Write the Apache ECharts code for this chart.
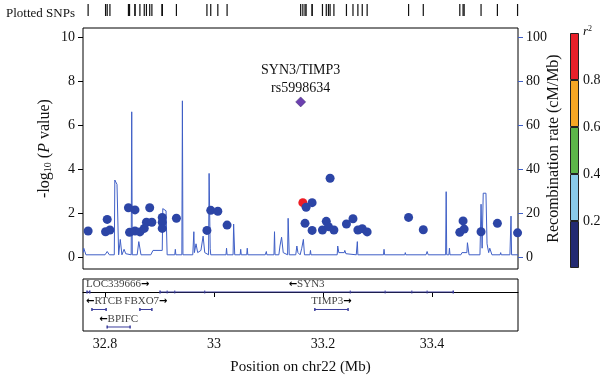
<!DOCTYPE html>
<html>
<head>
<meta charset="utf-8">
<script src="https://cdn.jsdelivr.net/npm/echarts@6/dist/echarts.min.js"></script>
<style>
html, body { margin: 0; padding: 0; background: #fff; }
#main { width: 600px; height: 376px; }
</style>
</head>
<body>
<div id="main"></div>
<script>
// SNPs (position in Mb, -log10 p, r2 with lead snp)
var snpPos = [32.769, 32.801, 32.804, 32.809, 32.843, 32.845, 32.855, 32.855, 32.864, 32.872,
  32.876, 32.882, 32.886, 32.905, 32.905, 32.905, 32.931, 32.987, 32.994, 33.007,
  33.024, 33.163, 33.169, 33.180, 33.213, 33.167, 33.180, 33.199, 33.206, 33.210,
  33.220, 33.243, 33.255, 33.264, 33.272, 33.281, 33.357, 33.384, 33.451, 33.457,
  33.459, 33.490, 33.520, 33.557];
var snpLogP = [1.18, 1.15, 1.71, 1.23, 2.24, 1.12, 2.14, 1.18, 1.14, 1.30,
  1.58, 2.24, 1.58, 1.80, 1.58, 1.30, 1.76, 1.21, 2.12, 2.08,
  1.45, 2.47, 2.26, 2.47, 3.58, 1.53, 1.21, 1.23, 1.62, 1.38,
  1.23, 1.50, 1.74, 1.23, 1.29, 1.14, 1.80, 1.24, 1.12, 1.64,
  1.27, 1.15, 1.53, 1.10];
var snpR2 = [0.1, 0.1, 0.1, 0.1, 0.1, 0.1, 0.1, 0.1, 0.1, 0.1,
  0.1, 0.1, 0.1, 0.1, 0.1, 0.1, 0.1, 0.1, 0.1, 0.1,
  0.1, 0.85, 0.1, 0.1, 0.1, 0.1, 0.1, 0.1, 0.1, 0.1,
  0.1, 0.1, 0.1, 0.1, 0.1, 0.1, 0.1, 0.1, 0.1, 0.1,
  0.1, 0.1, 0.1, 0.1];
var leadName = 'rs5998634';
var leadGene = 'SYN3/TIMP3';
var leadPos = 33.159;
var leadLogP = 7.05;

// recombination rate (cM/Mb)
var recombPos = [32.760, 32.761, 32.765, 32.800, 32.804, 32.808, 32.817, 32.818, 32.822, 32.825,
  32.828, 32.831, 32.835, 32.838, 32.848, 32.849, 32.850, 32.859, 32.862, 32.866,
  32.884, 32.888, 32.905, 32.906, 32.912, 32.914, 32.928, 32.929, 32.930, 32.941,
  32.942, 32.943, 32.961, 32.963, 32.964, 32.967, 32.970, 32.976, 32.980, 32.983,
  32.990, 32.991, 32.993, 32.994, 33.022, 33.023, 33.024, 33.035, 33.036, 33.038,
  33.048, 33.049, 33.050, 33.060, 33.061, 33.062, 33.094, 33.096, 33.097, 33.110,
  33.111, 33.112, 33.119, 33.121, 33.124, 33.127, 33.135, 33.136, 33.138, 33.150,
  33.152, 33.154, 33.158, 33.161, 33.164, 33.166, 33.176, 33.177, 33.178, 33.226,
  33.227, 33.229, 33.239, 33.240, 33.242, 33.261, 33.263, 33.264, 33.311, 33.312,
  33.313, 33.350, 33.351, 33.352, 33.389, 33.391, 33.393, 33.425, 33.426, 33.427,
  33.431, 33.432, 33.433, 33.453, 33.455, 33.464, 33.465, 33.468, 33.488, 33.490,
  33.492, 33.494, 33.499, 33.501, 33.504, 33.506, 33.510, 33.525, 33.526, 33.527,
  33.543, 33.545, 33.546, 33.558];
var recombRate = [2, 4, 1, 1, 2.5, 1, 1, 35, 33, 1,
  8, 1, 3.5, 1.5, 1, 66, 1, 1, 7, 1,
  1, 3, 3, 22, 21, 1, 1, 3.5, 1, 1,
  71, 1, 1, 11.5, 2, 6, 2, 3, 9.5, 2,
  1, 38, 4, 1, 1, 4, 1, 1, 15, 1,
  1, 3.5, 1, 1, 4, 1, 1, 2.5, 1, 1,
  11.5, 1, 1, 5, 9, 2, 1, 17.6, 1, 1,
  5, 2, 1, 4, 8, 1, 1, 3, 1, 1,
  5, 2, 2, 3, 1.5, 1, 7, 1, 1, 3.5,
  1, 1, 2, 1, 1, 2.5, 1, 1, 29.7, 1,
  1, 4, 1, 1, 2, 2, 6.5, 1, 1, 24,
  4, 29, 29, 6, 2, 4, 1, 1, 2, 1,
  1, 18.6, 1, 1];

// genes
var geneNames = ['LOC339666', 'SYN3', 'RTCB', 'FBXO7', 'TIMP3', 'BPIFC'];
var geneStart = [32.767, 32.901, 32.776, 32.864, 33.185, 32.804];
var geneEnd = [32.772, 33.439, 32.802, 32.886, 33.246, 32.846];
var geneRow = [0, 0, 1, 1, 1, 2];
var geneStrand = [1, -1, -1, 1, 1, -1];
var syn3Exons = [32.914, 32.928, 32.983, 33.250, 33.314, 33.363, 33.391];

var r2Bands = [0.2, 0.2, 0.2, 0.2, 0.2];
var r2Colors = ['#232a72', '#8acbea', '#5db54a', '#f6a724', '#e8202a'];
var dotColors = ['#2c45a6', '#8acbea', '#5db54a', '#f6a724', '#ee1d25'];
var r2Ticks = [0.2, 0.4, 0.6, 0.8];
var xTicks = [32.8, 33, 33.2, 33.4];
var pTicks = [0, 2, 4, 6, 8, 10];
var rateTicks = [0, 20, 40, 60, 80, 100];

var X_MIN = 32.7596, X_MAX = 33.5578;
var SERIF = '"Liberation Serif", "DejaVu Serif", serif';

var chart = echarts.init(document.getElementById('main'));

var snpData = snpPos.map(function (x, i) { return [x, snpLogP[i], snpR2[i]]; });
var tickData = snpPos.concat([leadPos]).map(function (x) { return [x, 0]; });
var recombData = recombPos.map(function (x, i) { return [x, recombRate[i]]; });
var geneData = geneNames.map(function (n, i) {
  return [geneStart[i], geneEnd[i], geneRow[i], geneStrand[i]];
});

function renderGene(params, api) {
  var i = params.dataIndex;
  var s = api.coord([api.value(0), api.value(2)]);
  var e = api.coord([api.value(1), api.value(2)]);
  var name = geneNames[i];
  var text = api.value(3) < 0 ? '{a|\u2190}' + name : name + '{a|\u2192}';
  var cx = (s[0] + e[0]) / 2;
  var w = name.length * 6.3 + 12;
  var left = params.coordSys.x;
  var align = 'center', tx = cx;
  if (cx - w / 2 < left + 2) { align = 'left'; tx = left + 3; }
  var color = '#3b3d9c';
  var children = [
    { type: 'line', shape: { x1: s[0], y1: s[1], x2: e[0], y2: e[1] }, style: { stroke: color, lineWidth: 1 } },
    { type: 'line', shape: { x1: s[0], y1: s[1] - 1.5, x2: s[0], y2: s[1] + 1.5 }, style: { stroke: color, lineWidth: 1.5 } },
    { type: 'line', shape: { x1: e[0], y1: e[1] - 1.5, x2: e[0], y2: e[1] + 1.5 }, style: { stroke: color, lineWidth: 1.5 } },
    {
      type: 'text', x: tx, y: s[1] - 8,
      style: {
        text: text, fill: '#444', fontFamily: SERIF, fontSize: 11,
        align: align, verticalAlign: 'middle',
        rich: { a: { fontFamily: 'DejaVu Sans', fontSize: 10, fontWeight: 'bold', fill: '#000' } }
      }
    }
  ];
  if (name === 'SYN3') {
    syn3Exons.forEach(function (x) {
      var p = api.coord([x, api.value(2)]);
      children.push({ type: 'line', shape: { x1: p[0], y1: p[1] - 1.5, x2: p[0], y2: p[1] + 1.5 }, style: { stroke: color, lineWidth: 1 } });
    });
  }
  return { type: 'group', children: children };
}

var barSeries = r2Bands.map(function (v, i) {
  return {
    type: 'bar', xAxisIndex: 3, yAxisIndex: 4, stack: 'r2', barWidth: 9,
    data: [v], silent: true,
    itemStyle: { color: r2Colors[i], borderColor: '#222', borderWidth: 1 }
  };
});

var option = {
  animation: false,
  title: {
    text: 'Plotted SNPs', left: 1, top: 2,
    textStyle: { fontFamily: SERIF, fontSize: 13, fontWeight: 'normal', color: '#111' }
  },
  visualMap: {
    show: false, seriesIndex: 1, dimension: 2,
    pieces: [
      { min: 0, max: 0.2, color: dotColors[0] },
      { min: 0.2, max: 0.4, color: dotColors[1] },
      { min: 0.4, max: 0.6, color: dotColors[2] },
      { min: 0.6, max: 0.8, color: dotColors[3] },
      { min: 0.8, max: 1, color: dotColors[4] }
    ]
  },
  grid: [
    { left: 83, right: 82, top: 4, height: 12, outerBoundsMode: 'none' },
    { left: 83, right: 82, top: 28, height: 241, show: true, borderColor: '#000', borderWidth: 1, outerBoundsMode: 'none' },
    { left: 83, right: 82, top: 279, height: 52, show: true, borderColor: '#000', borderWidth: 1, outerBoundsMode: 'none' },
    { left: 570, width: 9, top: 33, height: 235, outerBoundsMode: 'none' }
  ],
  xAxis: [
    { gridIndex: 0, type: 'value', min: X_MIN, max: X_MAX, show: false },
    { gridIndex: 1, type: 'value', min: X_MIN, max: X_MAX, axisLine: { show: false }, axisTick: { show: false }, axisLabel: { show: false }, splitLine: { show: false } },
    {
      gridIndex: 2, type: 'value', min: X_MIN, max: X_MAX,
      axisLine: { show: true, lineStyle: { color: '#000' } },
      axisTick: { show: true, customValues: xTicks, length: 5, lineStyle: { color: '#000' } },
      axisLabel: { customValues: xTicks, fontFamily: SERIF, fontSize: 14, color: '#111', margin: 6 },
      splitLine: { show: false },
      name: 'Position on chr22 (Mb)', nameLocation: 'middle', nameGap: 29, nameMoveOverlap: false,
      nameTextStyle: { fontFamily: SERIF, fontSize: 15, color: '#111' }
    },
    { gridIndex: 3, type: 'category', data: [''], show: false }
  ],
  yAxis: [
    { gridIndex: 0, type: 'value', min: -1, max: 1, show: false },
    {
      gridIndex: 1, type: 'value', min: -0.545, max: 10.41,
      axisLine: { show: false },
      axisTick: { show: true, customValues: pTicks, length: 5, lineStyle: { color: '#000' } },
      axisLabel: { customValues: pTicks, fontFamily: SERIF, fontSize: 14, color: '#111', margin: 8 },
      splitLine: { show: false },
      name: '-log{s|10} ({i|P} value)', nameLocation: 'middle', nameGap: 30, nameRotate: 90,
      nameMoveOverlap: false,
      nameTextStyle: {
        fontFamily: SERIF, fontSize: 16, color: '#111',
        rich: {
          s: { fontFamily: SERIF, fontSize: 10, color: '#111', verticalAlign: 'bottom', padding: [7, 0, 0, 0] },
          i: { fontFamily: SERIF, fontSize: 16, color: '#111', fontStyle: 'italic' }
        }
      }
    },
    {
      gridIndex: 1, type: 'value', position: 'right', min: -5.45, max: 104.1,
      axisLine: { show: false },
      axisTick: { show: true, customValues: rateTicks, length: 5, lineStyle: { color: '#3f5fc6' } },
      axisLabel: { customValues: rateTicks, fontFamily: SERIF, fontSize: 14, color: '#111', margin: 8 },
      splitLine: { show: false },
      name: 'Recombination rate (cM/Mb)', nameLocation: 'middle', nameGap: 28, nameRotate: 90,
      nameMoveOverlap: false,
      nameTextStyle: { fontFamily: SERIF, fontSize: 16, color: '#111' }
    },
    { gridIndex: 2, type: 'value', min: -0.743, max: 2.229, inverse: true, show: false },
    {
      gridIndex: 3, type: 'value', min: 0, max: 1, position: 'right',
      axisLine: { show: false }, axisTick: { show: false }, splitLine: { show: false },
      axisLabel: { customValues: r2Ticks, fontFamily: SERIF, fontSize: 14, color: '#111', margin: 4 },
      name: '{i|r}{s|2}', nameLocation: 'end', nameGap: -6, nameMoveOverlap: false,
      nameTextStyle: {
        align: 'left', padding: [0, 0, 0, 4],
        rich: {
          i: { fontFamily: SERIF, fontSize: 13, fontStyle: 'italic', color: '#111' },
          s: { fontFamily: SERIF, fontSize: 8, color: '#111', verticalAlign: 'top', padding: [0, 0, 6, 0] }
        }
      }
    }
  ],
  series: [
    {
      type: 'line', xAxisIndex: 1, yAxisIndex: 2, data: recombData,
      showSymbol: false, silent: true, z: 2,
      lineStyle: { color: '#3f5fc6', width: 1 }
    },
    {
      type: 'scatter', xAxisIndex: 1, yAxisIndex: 1, data: snpData,
      symbolSize: 9, z: 3, itemStyle: { opacity: 1 }
    },
    {
      type: 'scatter', xAxisIndex: 1, yAxisIndex: 1, data: [[leadPos, leadLogP]],
      symbol: 'diamond', symbolSize: 10, z: 4,
      itemStyle: { color: '#6c40b0', borderColor: '#3a2a6a', borderWidth: 0.5, opacity: 1 },
      label: {
        show: true, position: 'top', distance: -1,
        formatter: leadGene + '\n' + leadName,
        fontFamily: SERIF, fontSize: 14, lineHeight: 18, color: '#111'
      }
    },
    {
      type: 'scatter', xAxisIndex: 0, yAxisIndex: 0, data: tickData,
      symbol: 'rect', symbolSize: [1.2, 12], silent: true,
      itemStyle: { color: '#111', opacity: 1 }
    },
    {
      type: 'custom', xAxisIndex: 2, yAxisIndex: 3, data: geneData,
      renderItem: renderGene, encode: { x: [0, 1], y: 2 }, silent: true
    }
  ].concat(barSeries)
};

chart.setOption(option);
window.addEventListener('resize', function () { chart.resize(); });
</script>
</body>
</html>
